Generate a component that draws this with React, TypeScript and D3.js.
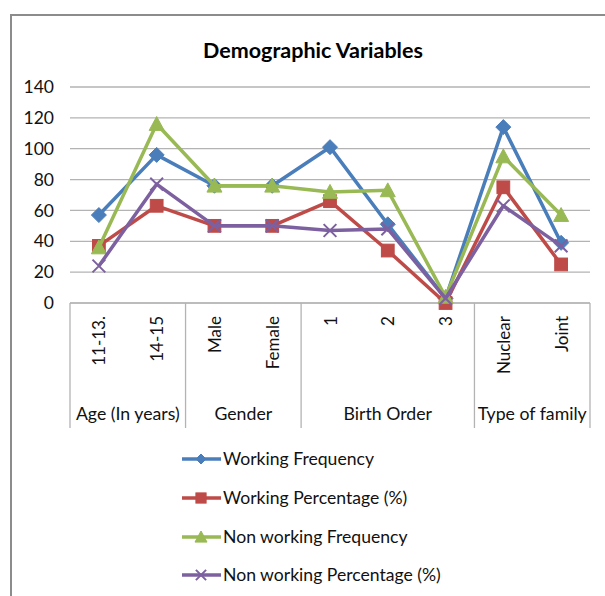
import React, { useEffect, useRef } from 'react';
import * as d3 from 'd3';

const categories = ['11-13.', '14-15', 'Male', 'Female', '1', '2', '3', 'Nuclear', 'Joint'];
const groupNames = ['Age (In years)', 'Gender', 'Birth Order', 'Type of family'];
const groupSizes = [2, 2, 3, 2];
const yTicks = [0, 20, 40, 60, 80, 100, 120, 140];

const workingFrequency = [57, 96, 76, 76, 101, 51, 3, 114, 39];
const workingPercentage = [37, 63, 50, 50, 66, 34, 0, 75, 25];
const nonWorkingFrequency = [36, 116, 76, 76, 72, 73, 4, 95, 57];
const nonWorkingPercentage = [24, 77, 50, 50, 47, 48, 3, 63, 37];

const seriesNames = [
  'Working Frequency',
  'Working Percentage (%)',
  'Non working Frequency',
  'Non working Percentage (%)',
];
const seriesColors = ['#4a7ebb', '#be4b48', '#98b954', '#7d60a0'];
const seriesMarkers = ['diamond', 'square', 'triangle', 'x'];

const FONT = 'Lato, "Open Sans", sans-serif';

export default function App() {
  const ref = useRef<SVGSVGElement>(null);

  useEffect(() => {
    if (!ref.current) return;
    const svg = d3.select(ref.current);
    svg.selectAll('*').remove();

    const margin = { left: 70, right: 590, top: 87, bottom: 303 };

    const x = d3.scaleBand().domain(categories).range([margin.left, margin.right]);
    const y = d3.scaleLinear().domain([0, 140]).range([margin.bottom, margin.top]);

    // outer frame
    svg.append('path')
      .attr('d', 'M11,620 L11,15 L620,15')
      .attr('fill', 'none')
      .attr('stroke', '#8c8c8c')
      .attr('stroke-width', 2);

    svg.append('text')
      .attr('x', 313)
      .attr('y', 58)
      .attr('text-anchor', 'middle')
      .attr('font-family', FONT)
      .attr('font-weight', 'bold')
      .attr('font-size', 21.5)
      .text('Demographic Variables');

    // gridlines
    svg.append('g')
      .selectAll('line')
      .data(yTicks)
      .enter()
      .append('line')
      .attr('x1', margin.left)
      .attr('x2', margin.right)
      .attr('y1', d => y(d))
      .attr('y2', d => y(d))
      .attr('stroke', d => (d === 0 ? '#a6a6a6' : '#b3b3b3'))
      .attr('stroke-width', 1.3);

    // y labels
    svg.append('g')
      .selectAll('text')
      .data(yTicks)
      .enter()
      .append('text')
      .attr('x', 54)
      .attr('y', d => y(d))
      .attr('dy', '0.35em')
      .attr('text-anchor', 'end')
      .attr('font-family', FONT)
      .attr('font-size', 17.5)
      .attr('fill', '#111')
      .text(d => d);

    // category labels (rotated)
    svg.append('g')
      .selectAll('text')
      .data(categories)
      .enter()
      .append('text')
      .attr('transform', d => `translate(${(x(d) as number) + x.bandwidth() / 2 + 6.5},316) rotate(-90)`)
      .attr('text-anchor', 'end')
      .attr('font-family', FONT)
      .attr('font-size', 17)
      .attr('fill', '#111')
      .text(d => d);

    // group dividers and labels
    const bounds = [0];
    groupSizes.forEach(s => bounds.push(bounds[bounds.length - 1] + s));
    svg.append('g')
      .selectAll('line')
      .data(bounds)
      .enter()
      .append('line')
      .attr('x1', i => margin.left + i * x.step())
      .attr('x2', i => margin.left + i * x.step())
      .attr('y1', margin.bottom)
      .attr('y2', 428)
      .attr('stroke', '#b3b3b3')
      .attr('stroke-width', 1.3);

    svg.append('g')
      .selectAll('text')
      .data(groupNames)
      .enter()
      .append('text')
      .attr('x', (_, i) => margin.left + ((bounds[i] + bounds[i + 1]) / 2) * x.step())
      .attr('y', 420)
      .attr('text-anchor', 'middle')
      .attr('font-family', FONT)
      .attr('font-size', 17.7)
      .attr('fill', '#111')
      .text(d => d);

    const drawMarker = (g: any, type: string, color: string, cx: number, cy: number, r: number) => {
      if (type === 'diamond') {
        g.append('path')
          .attr('d', `M${cx},${cy - r} L${cx + r},${cy} L${cx},${cy + r} L${cx - r},${cy} Z`)
          .attr('fill', color)
          .attr('stroke', color)
          .attr('stroke-width', 1);
      } else if (type === 'square') {
        g.append('rect')
          .attr('x', cx - r * 0.85)
          .attr('y', cy - r * 0.85)
          .attr('width', r * 1.7)
          .attr('height', r * 1.7)
          .attr('fill', color)
          .attr('stroke', color)
          .attr('stroke-width', 1);
      } else if (type === 'triangle') {
        g.append('path')
          .attr('d', `M${cx},${cy - r} L${cx + r},${cy + r * 0.85} L${cx - r},${cy + r * 0.85} Z`)
          .attr('fill', color)
          .attr('stroke', color)
          .attr('stroke-width', 1);
      } else {
        const k = r * 0.85;
        g.append('path')
          .attr('d', `M${cx - k},${cy - k} L${cx + k},${cy + k} M${cx - k},${cy + k} L${cx + k},${cy - k}`)
          .attr('fill', 'none')
          .attr('stroke', color)
          .attr('stroke-width', 2);
      }
    };

    const allSeries = [workingFrequency, workingPercentage, nonWorkingFrequency, nonWorkingPercentage];
    const line = d3.line<number>()
      .x((_, i) => (x(categories[i]) as number) + x.bandwidth() / 2)
      .y(d => y(d));

    allSeries.forEach((values, si) => {
      const g = svg.append('g');
      g.append('path')
        .attr('d', line(values))
        .attr('fill', 'none')
        .attr('stroke', seriesColors[si])
        .attr('stroke-width', 3.5)
        .attr('stroke-linejoin', 'round');
      values.forEach((v, i) => {
        drawMarker(g, seriesMarkers[si], seriesColors[si],
          (x(categories[i]) as number) + x.bandwidth() / 2, y(v), 7.5);
      });
    });

    // legend
    const legendY = [459, 498, 537, 575];
    seriesNames.forEach((name, i) => {
      const g = svg.append('g');
      g.append('line')
        .attr('x1', 182)
        .attr('x2', 221)
        .attr('y1', legendY[i])
        .attr('y2', legendY[i])
        .attr('stroke', seriesColors[i])
        .attr('stroke-width', 3.5);
      drawMarker(g, seriesMarkers[i], seriesColors[i], 201, legendY[i], seriesMarkers[i] === 'diamond' ? 5 : 6);
      g.append('text')
        .attr('x', 223)
        .attr('y', legendY[i])
        .attr('dy', '0.35em')
        .attr('font-family', FONT)
        .attr('font-size', 17.6)
        .attr('fill', '#111')
        .text(name);
    });
  }, []);

  return (
    <svg
      ref={ref}
      width={605}
      height={596}
      style={{ position: 'absolute', left: 0, top: 0, background: '#fff' }}
    />
  );
}
